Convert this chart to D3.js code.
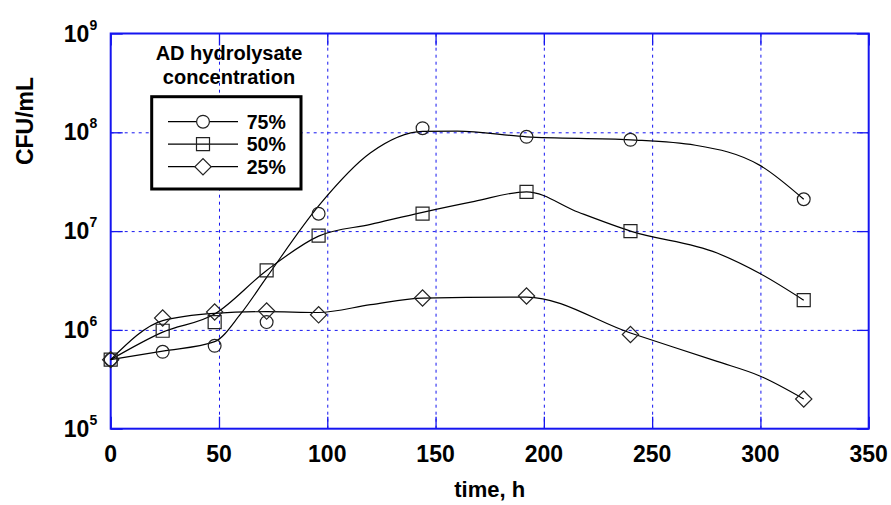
<!DOCTYPE html>
<html>
<head>
<meta charset="utf-8">
<script src="https://cdn.jsdelivr.net/npm/d3@7"></script>
<style>
  body { margin: 0; background: #fff; }
  text { font-family: "Liberation Sans", Arial, sans-serif; font-weight: bold; fill: #000; }
</style>
</head>
<body>
<div id="main"></div>
<script>
// measured points
var times = [0, 24, 48, 72, 96, 144, 192, 240, 320];
var v75 = [5e5, 6.0e5, 6.9e5, 1.2e6, 1.5e7, 1.1e8, 9.0e7, 8.4e7, 2.1e7];
var v50 = [5e5, 9.8e5, 1.2e6, 4.0e6, 9.0e6, 1.5e7, 2.5e7, 1.0e7, 2.0e6];
var v25 = [5e5, 1.32e6, 1.52e6, 1.55e6, 1.42e6, 2.1e6, 2.2e6, 9.0e5, 2.0e5];

// smoothed fit curves
var fitT75 = [0, 24, 48, 60, 72, 96, 120, 144, 160, 192, 240, 270, 300, 320];
var fit75 = [5e5, 6.1e5, 7.6e5, 1.45e6, 3.4e6, 1.8e7, 6.2e7, 1.02e8, 1.03e8, 9.0e7, 8.4e7, 7.4e7, 4.6e7, 2.1e7];
var fitT50 = [0, 24, 48, 72, 96, 120, 144, 168, 192, 216, 240, 280, 300, 320];
var fit50 = [5e5, 9.5e5, 1.45e6, 4.0e6, 8.9e6, 1.17e7, 1.55e7, 2.0e7, 2.5e7, 1.55e7, 1.0e7, 6.0e6, 3.7e6, 2.0e6];
var fitT25 = [0, 24, 48, 72, 96, 120, 144, 192, 240, 280, 300, 320];
var fit25 = [5e5, 1.24e6, 1.47e6, 1.53e6, 1.5e6, 1.8e6, 2.1e6, 2.15e6, 9.3e5, 4.8e5, 3.4e5, 2.0e5];

var xTicks = [0, 50, 100, 150, 200, 250, 300, 350];
var yTicks = [1e5, 1e6, 1e7, 1e8, 1e9];
var legendLabels = ["75%", "50%", "25%"];
var legendTitle = ["AD hydrolysate", "concentration"];

var margin = {top: 33.5, right: 22.3, bottom: 76.3, left: 110.7},
    width = 891 - margin.left - margin.right,
    height = 505 - margin.top - margin.bottom;

var svg = d3.select("#main")
  .append("svg")
    .attr("width", 891)
    .attr("height", 505)
  .append("g")
    .attr("transform", "translate(" + margin.left + "," + margin.top + ")");

var x = d3.scaleLinear().domain([0, 350]).range([0, width]);
var y = d3.scaleLog().domain([1e5, 1e9]).range([height, 0]);

var blue = "#1515f0";

// dashed grid
svg.append("g")
  .attr("transform", "translate(0," + height + ")")
  .call(d3.axisBottom(x).tickValues(xTicks.slice(1, -1)).tickSize(-height).tickFormat(""))
  .call(function(g) { g.select(".domain").remove(); })
  .selectAll("line")
    .attr("stroke", blue).attr("stroke-width", 1).attr("stroke-dasharray", "3,4");
svg.append("g")
  .call(d3.axisLeft(y).tickValues(yTicks.slice(1, -1)).tickSize(-width).tickFormat(""))
  .call(function(g) { g.select(".domain").remove(); })
  .selectAll("line")
    .attr("stroke", blue).attr("stroke-width", 1).attr("stroke-dasharray", "3,4");

// inward ticks on all sides
function tickStyle(g) {
  g.select(".domain").remove();
  g.selectAll("line").attr("stroke", blue).attr("stroke-width", 1.3);
}
svg.append("g").attr("transform", "translate(0," + height + ")")
  .call(d3.axisBottom(x).tickValues(xTicks).tickSize(-12).tickFormat("")).call(tickStyle);
svg.append("g")
  .call(d3.axisTop(x).tickValues(xTicks).tickSize(-12).tickFormat("")).call(tickStyle);
svg.append("g")
  .call(d3.axisLeft(y).tickValues(yTicks).tickSize(-12).tickFormat("")).call(tickStyle);
svg.append("g").attr("transform", "translate(" + width + ",0)")
  .call(d3.axisRight(y).tickValues(yTicks).tickSize(-12).tickFormat("")).call(tickStyle);

// frame
svg.append("rect")
  .attr("width", width).attr("height", height)
  .attr("fill", "none").attr("stroke", blue).attr("stroke-width", 2);

// x tick labels
svg.selectAll(".xlab")
  .data(xTicks)
  .enter().append("text")
    .attr("class", "xlab")
    .attr("x", function(d) { return x(d); })
    .attr("y", height + 33)
    .attr("text-anchor", "middle")
    .style("font-size", "23px")
    .text(function(d) { return d; });

// y tick labels 10^n
var ylab = svg.selectAll(".ylab")
  .data(yTicks)
  .enter().append("text")
    .attr("class", "ylab")
    .attr("x", -13.5)
    .attr("y", function(d) { return y(d) + 8; })
    .attr("text-anchor", "end")
    .style("font-size", "23px");
ylab.append("tspan").text("10");
ylab.append("tspan")
  .attr("dy", -12)
  .style("font-size", "14px")
  .text(function(d) { return Math.round(Math.log10(d)); });

// axis titles
svg.append("text")
  .attr("x", width / 2)
  .attr("y", height + 68)
  .attr("text-anchor", "middle")
  .style("font-size", "22px")
  .text("time, h");
svg.append("text")
  .attr("transform", "rotate(-90)")
  .attr("x", -(121 - margin.top))
  .attr("y", 33 - margin.left)
  .attr("text-anchor", "middle")
  .style("font-size", "23px")
  .text("CFU/mL");

// curves
var line = d3.line()
  .x(function(d) { return x(d[0]); })
  .y(function(d) { return y(d[1]); })
  .curve(d3.curveMonotoneX);

var fits = [[fitT75, fit75], [fitT50, fit50], [fitT25, fit25]];
fits.forEach(function(f) {
  svg.append("path")
    .datum(f[0].map(function(t, i) { return [t, f[1][i]]; }))
    .attr("d", line)
    .attr("fill", "none")
    .attr("stroke", "#000")
    .attr("stroke-width", 1.2);
});

// markers
var sym = [
  d3.symbol().type(d3.symbolCircle).size(Math.PI * 6.4 * 6.4),
  d3.symbol().type(d3.symbolSquare).size(13 * 13),
  d3.symbol().type(d3.symbolSquare).size(11.5 * 11.5)
];
var series = [v75, v50, v25];
series.forEach(function(vals, s) {
  svg.selectAll(".m" + s)
    .data(vals)
    .enter().append("path")
      .attr("class", "m" + s)
      .attr("d", sym[s])
      .attr("transform", function(d, i) {
        return "translate(" + x(times[i]) + "," + y(d) + ")" + (s === 2 ? " rotate(45)" : "");
      })
      .attr("fill", "none")
      .attr("stroke", "#222")
      .attr("stroke-width", 1.2);
});

// legend
svg.selectAll(".ltitle")
  .data(legendTitle)
  .enter().append("text")
    .attr("class", "ltitle")
    .attr("x", 229 - margin.left)
    .attr("y", function(d, i) { return 60 + i * 24 - margin.top; })
    .attr("text-anchor", "middle")
    .style("font-size", "20px")
    .text(function(d) { return d; });

var lg = svg.append("g").attr("transform", "translate(" + (151.7 - margin.left) + "," + (96.7 - margin.top) + ")");
lg.append("rect")
  .attr("width", 149.3).attr("height", 92.3)
  .attr("fill", "#fff").attr("stroke", "#000").attr("stroke-width", 3);

legendLabels.forEach(function(lab, i) {
  var cy = 25 + i * 22.5;
  lg.append("line")
    .attr("x1", 16.3).attr("x2", 86.3)
    .attr("y1", cy).attr("y2", cy)
    .attr("stroke", "#000").attr("stroke-width", 1.2);
  lg.append("path")
    .attr("d", sym[i])
    .attr("transform", "translate(51.3," + cy + ")" + (i === 2 ? " rotate(45)" : ""))
    .attr("fill", i === 1 ? "none" : "#fff")
    .attr("stroke", "#222").attr("stroke-width", 1.2);
  lg.append("text")
    .attr("x", 95)
    .attr("y", cy + 7)
    .style("font-size", "19.5px")
    .text(lab);
});
</script>
</body>
</html>
